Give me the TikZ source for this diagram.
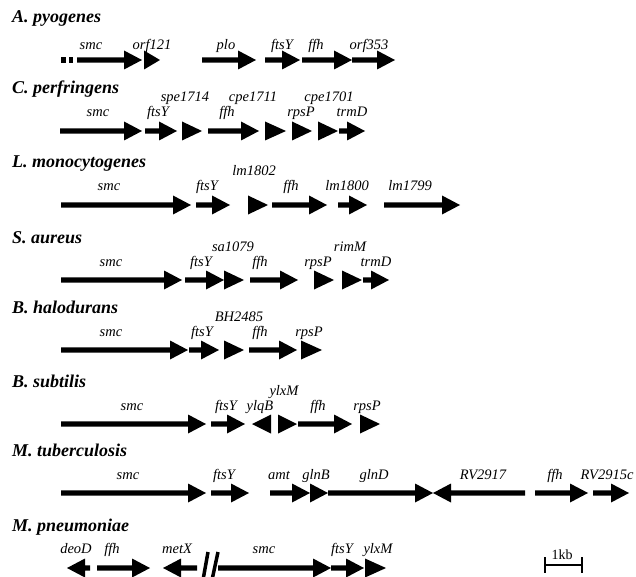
\documentclass[tikz,border=0pt]{standalone}
\usepackage{fontspec}
\setmainfont{Liberation Serif}
\usetikzlibrary{calc}
\tikzset{
  genefill/.style  = {black},
  lbl/.style       = {font=\fontsize{14.5}{16}\selectfont\itshape, inner sep=0pt, anchor=base},
  org/.style       = {font=\fontsize{18}{20}\selectfont\bfseries\itshape, inner sep=0pt, anchor=base west},
  kblbl/.style     = {font=\fontsize{14}{16}\selectfont, inner sep=0pt, anchor=base},
  scalebar/.style  = {line width=1.2pt},
  breakmark/.style = {line width=3.5pt},
}

\begin{document}
\begin{tikzpicture}[x=1pt, y=-1pt]
\useasboundingbox (0,0) rectangle (636,577);

% ---- helpers: one gene, drawn on the row line y=0 ----------------------
\newcommand{\genearrow}[2]{% tail x, tip x
  \pgfmathsetmacro{\headx}{#2-18*sign(#2-#1)}%
  \fill[genefill] (#1,-2.6) -- (\headx,-2.6) -- (\headx,-9.5) -- (#2,0)
    -- (\headx,9.5) -- (\headx,2.6) -- (#1,2.6) -- cycle;
}
\newcommand{\genetip}[2]{% short gene: head only
  \fill[genefill] (#1,-9.5) -- (#2,0) -- (#1,9.5) -- cycle;
}

% ---- A. pyogenes ----------------------------------------------------------
\begin{scope}[shift={(0,60)}]
  \node[org] (pyo) at (12,-37) {A. pyogenes};
  \fill[genefill] (61,-2.6) rectangle (65.5,2.6);
  \fill[genefill] (68.5,-2.6) rectangle (73,2.6);
  \genearrow{77}{142}  \node[lbl] (pyo-smc) at (91,-10) {smc};
  \genetip{144}{160}   \node[lbl] (pyo-orf121) at (152,-10) {orf121};
  \genearrow{202}{256} \node[lbl] (pyo-plo) at (226,-10) {plo};
  \genearrow{265}{300} \node[lbl] (pyo-ftsY) at (282,-10) {ftsY};
  \genearrow{302}{352} \node[lbl] (pyo-ffh) at (316,-10) {ffh};
  \genearrow{352}{395} \node[lbl] (pyo-orf353) at (369,-10) {orf353};
\end{scope}

% ---- C. perfringens -------------------------------------------------------
\begin{scope}[shift={(0,131)}]
  \node[org] (per) at (12,-37) {C. perfringens};
  \genearrow{60}{142}  \node[lbl] (per-smc) at (98,-14) {smc};
  \genearrow{145}{177} \node[lbl] (per-ftsY) at (158,-14) {ftsY};
  \genetip{182}{202}   \node[lbl] (per-spe1714) at (185,-29) {spe1714};
  \genearrow{208}{259} \node[lbl] (per-ffh) at (227,-14) {ffh};
  \genetip{265}{286}   \node[lbl] (per-cpe1711) at (253,-29) {cpe1711};
  \genetip{292}{312}   \node[lbl] (per-rpsP) at (301,-14) {rpsP};
  \genetip{318}{338}   \node[lbl] (per-cpe1701) at (329,-29) {cpe1701};
  \genearrow{339}{365} \node[lbl] (per-trmD) at (352,-14) {trmD};
\end{scope}

% ---- L. monocytogenes -----------------------------------------------------
\begin{scope}[shift={(0,205)}]
  \node[org] (mon) at (12,-37) {L. monocytogenes};
  \genearrow{61}{191}  \node[lbl] (mon-smc) at (109,-14) {smc};
  \genearrow{196}{230} \node[lbl] (mon-ftsY) at (207,-14) {ftsY};
  \genetip{248}{268}   \node[lbl] (mon-lm1802) at (254,-29) {lm1802};
  \genearrow{272}{327} \node[lbl] (mon-ffh) at (291,-14) {ffh};
  \genearrow{338}{367} \node[lbl] (mon-lm1800) at (347,-14) {lm1800};
  \genearrow{384}{460} \node[lbl] (mon-lm1799) at (410,-14) {lm1799};
\end{scope}

% ---- S. aureus ------------------------------------------------------------
\begin{scope}[shift={(0,280)}]
  \node[org] (aur) at (12,-37) {S. aureus};
  \genearrow{61}{182}  \node[lbl] (aur-smc) at (111,-14) {smc};
  \genearrow{185}{224} \node[lbl] (aur-ftsY) at (201,-14) {ftsY};
  \genetip{224}{244}   \node[lbl] (aur-sa1079) at (233,-29) {sa1079};
  \genearrow{250}{298} \node[lbl] (aur-ffh) at (260,-14) {ffh};
  \genetip{314}{334}   \node[lbl] (aur-rpsP) at (318,-14) {rpsP};
  \genetip{342}{362}   \node[lbl] (aur-rimM) at (350,-29) {rimM};
  \genearrow{363}{389} \node[lbl] (aur-trmD) at (376,-14) {trmD};
\end{scope}

% ---- B. halodurans --------------------------------------------------------
\begin{scope}[shift={(0,350)}]
  \node[org] (hal) at (12,-37) {B. halodurans};
  \genearrow{61}{188}  \node[lbl] (hal-smc) at (111,-14) {smc};
  \genearrow{189}{219} \node[lbl] (hal-ftsY) at (202,-14) {ftsY};
  \genetip{224}{244}   \node[lbl] (hal-BH2485) at (239,-29) {BH2485};
  \genearrow{249}{297} \node[lbl] (hal-ffh) at (260,-14) {ffh};
  \genetip{301}{322}   \node[lbl] (hal-rpsP) at (309,-14) {rpsP};
\end{scope}

% ---- B. subtilis ----------------------------------------------------------
\begin{scope}[shift={(0,424)}]
  \node[org] (sub) at (12,-37) {B. subtilis};
  \genearrow{61}{206}  \node[lbl] (sub-smc) at (132,-14) {smc};
  \genearrow{211}{245} \node[lbl] (sub-ftsY) at (226,-14) {ftsY};
  \genetip{271}{252}   \node[lbl] (sub-ylqB) at (260,-14) {ylqB};
  \genetip{278}{297}   \node[lbl] (sub-ylxM) at (284,-29) {ylxM};
  \genearrow{298}{352} \node[lbl] (sub-ffh) at (318,-14) {ffh};
  \genetip{360}{380}   \node[lbl] (sub-rpsP) at (367,-14) {rpsP};
\end{scope}

% ---- M. tuberculosis ------------------------------------------------------
\begin{scope}[shift={(0,493)}]
  \node[org] (tub) at (12,-37) {M. tuberculosis};
  \genearrow{61}{206}  \node[lbl] (tub-smc) at (128,-14) {smc};
  \genearrow{211}{249} \node[lbl] (tub-ftsY) at (224,-14) {ftsY};
  \genearrow{270}{310} \node[lbl] (tub-amt) at (279,-14) {amt};
  \genetip{310}{328}   \node[lbl] (tub-glnB) at (316,-14) {glnB};
  \genearrow{328}{433} \node[lbl] (tub-glnD) at (374,-14) {glnD};
  \genearrow{525}{433} \node[lbl] (tub-RV2917) at (483,-14) {RV2917};
  \genearrow{535}{588} \node[lbl] (tub-ffh) at (555,-14) {ffh};
  \genearrow{593}{629} \node[lbl] (tub-RV2915c) at (607,-14) {RV2915c};
\end{scope}

% ---- M. pneumoniae --------------------------------------------------------
\begin{scope}[shift={(0,568)}]
  \node[org] (pne) at (12,-37) {M. pneumoniae};
  \genearrow{90}{67}   \node[lbl] (pne-deoD) at (76,-15) {deoD};
  \genearrow{97}{150}  \node[lbl] (pne-ffh) at (112,-15) {ffh};
  \genearrow{197}{163} \node[lbl] (pne-metX) at (177,-15) {metX};
  \draw[breakmark] (203,12) -- (208,-16) (212,12) -- (218,-16);
  \genearrow{218}{331} \node[lbl] (pne-smc) at (264,-15) {smc};
  \genearrow{331}{364} \node[lbl] (pne-ftsY) at (342,-15) {ftsY};
  \genetip{365}{386}   \node[lbl] (pne-ylxM) at (378,-15) {ylxM};
  % scale bar
  \coordinate (kbL) at (545,-3);
  \coordinate (kbR) at (582,-3);
  \draw[scalebar] (kbL) -- (kbR) ($(kbL)+(0,-8)$) -- ($(kbL)+(0,8)$)
                  ($(kbR)+(0,-8)$) -- ($(kbR)+(0,8)$);
  \node[kblbl] (kb) at (562,-9) {1kb};
\end{scope}

\end{tikzpicture}
\end{document}
